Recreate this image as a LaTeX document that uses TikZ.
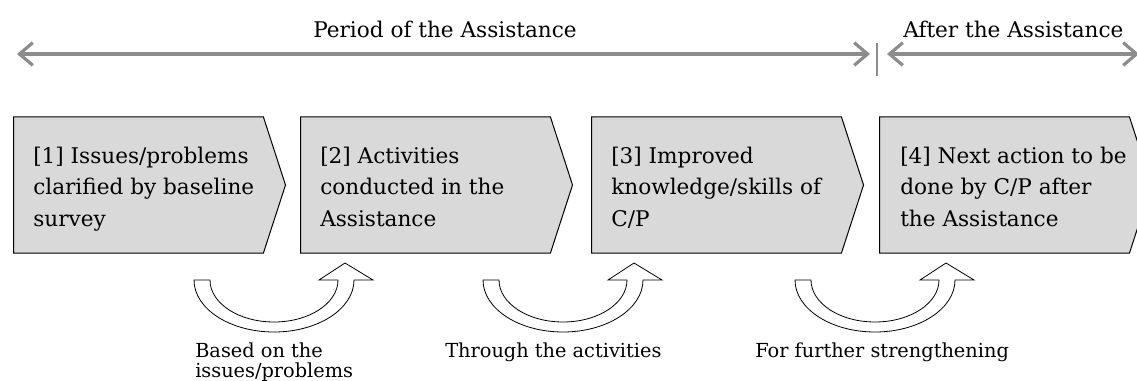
\documentclass[tikz,border=0pt]{standalone}
\usepackage{fontspec}
\setmainfont{DejaVu Serif}
\usetikzlibrary{arrows.meta,positioning,shapes.symbols}

\begin{document}
\begin{tikzpicture}[
  x=0.75pt,y=-0.75pt,
  font=\fontsize{16.2}{23.6}\selectfont,
  >={Straight Barb[length=10pt,width=17pt]},
  stepbox/.style={signal,signal to=east,signal pointer angle=144,
    draw=black,line width=0.75pt,fill=black!15,inner sep=0pt,
    minimum width=204pt,minimum height=102pt},
  steptext/.style={align=left,anchor=base west,inner sep=0pt},
  period/.style={<->,line width=2.4pt,draw=black!45},
  divider/.style={line width=2pt,draw=black!45},
  uturn/.style={draw=black,line width=0.6pt,fill=white,line join=miter},
  note/.style={font=\fontsize{14.5}{14.3}\selectfont,align=left,anchor=base west,inner sep=0pt},
  toplabel/.style={anchor=base,inner sep=0pt}
]
\path[use as bounding box] (0,0) rectangle (1137,381);
\clip (0,0) rectangle (1137,381);

% Period bar
\coordinate (pstart) at (17,54);
\coordinate (pend) at (870,54);
\coordinate (bartop) at (877,43);
\coordinate (barbot) at (877,76);
\coordinate (astart) at (887,54);
\coordinate (aend) at (1139,54);
\node[toplabel] (during) at (445,38) {Period of the Assistance};
\node[toplabel,anchor=base west] (after) at (903,38) {After the Assistance};
\draw[period] (pstart) -- (pend);
\draw[divider] (bartop) -- (barbot);
\draw[period] (astart) -- (aend);

% Steps
\node[stepbox,anchor=west] (s1) at (13,185) {};
\node[stepbox] (s2) [right=10.5pt of s1] {};
\node[stepbox] (s3) [right=13.5pt of s2] {};
\node[stepbox] (s4) [right=11.25pt of s3] {};
\node[steptext] (t1) at (33,226) {[1] Issues/problems\\clarified by baseline\\survey};
\node[steptext] (t2) at (320,226) {[2] Activities\\conducted in the\\Assistance};
\node[steptext] (t3) at (611,226) {[3] Improved\\knowledge/skills of\\C/P};
\node[steptext] (t4) at (900,226) {[4] Next action to be\\done by C/P after\\the Assistance};

% U-turn arrows
\foreach \c in {274,563,875}
  \draw[uturn] (\c-80,280) arc[start angle=180,end angle=0,x radius=80,y radius=52]
    -- (\c+99,280) -- (\c+71,263) -- (\c+45,280) -- (\c+64,280)
    arc[start angle=0,end angle=180,x radius=64,y radius=42] -- cycle;

% Notes
\node[note] (n1) at (195,377) {Based on the\\issues/problems};
\node[note] (n2) at (445,357) {Through the activities};
\node[note] (n3) at (755,357) {For further strengthening};

\end{tikzpicture}
\end{document}
